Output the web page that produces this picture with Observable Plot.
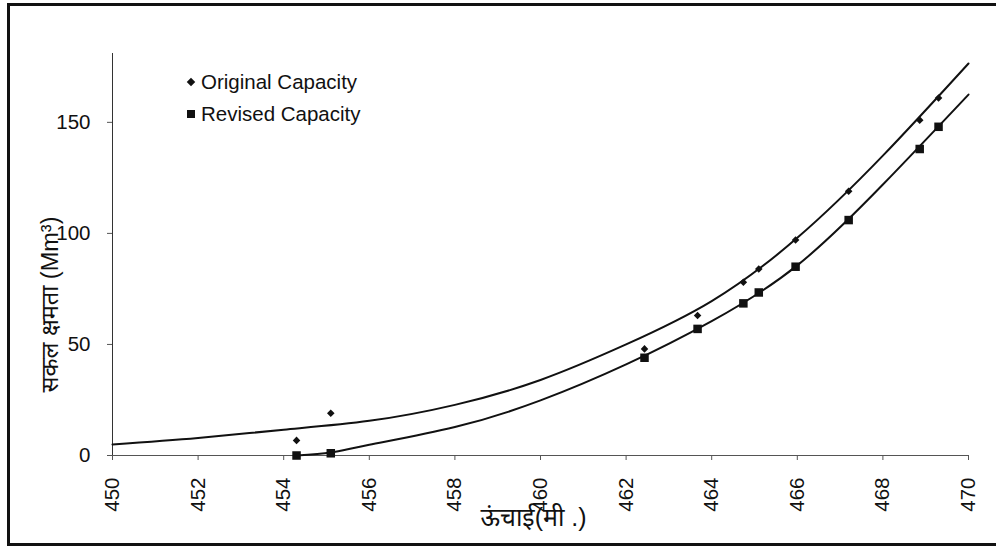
<!DOCTYPE html>
<html>
<head>
<meta charset="utf-8">
<script src="https://cdn.jsdelivr.net/npm/d3@7"></script>
<script src="https://cdn.jsdelivr.net/npm/@observablehq/plot@0.6"></script>
<style>
  html, body { margin: 0; padding: 0; background: #fff; }
  #wrap { position: relative; width: 996px; height: 550px; overflow: hidden; font-family: "Liberation Sans", Arial, "Noto Sans", sans-serif; }
  #frame { position: absolute; left: 7px; top: 3px; width: 1000px; height: 537px; border: 3px solid #111; box-sizing: content-box; pointer-events: none; }
  #legend { position: absolute; left: 186px; top: 66px; font-size: 20.5px; color: #111; line-height: 32px; }
  .row { display: flex; align-items: center; white-space: nowrap; }
  .dia { display: inline-block; width: 6px; height: 6px; background: #111; transform: rotate(45deg); margin: 0 7px 0 2px; }
  .sq { display: inline-block; width: 8px; height: 8px; background: #111; margin: 0 6px 0 1px; }
</style>
</head>
<body>
<div id="wrap">
  <div id="chart"></div>
  <div id="frame"></div>
  <div id="legend"></div>
</div>
<script>
// Data
const elevations = [454.3, 455.1, 462.43, 463.67, 464.74, 465.1, 465.96, 467.2, 468.86, 469.3];
const originalCapacity = [6.8, 19, 48, 63, 78, 84, 97, 119, 151, 161];
const revisedCapacity = [0, 1, 44, 57, 68.5, 73.4, 85, 106, 138, 148];

// Trendlines as drawn in the reference
const originalTrendX = [450, 452, 454, 456, 458, 460, 462, 464, 466, 468, 470];
const originalTrendY = [5, 7.9, 11.6, 15.6, 22.8, 34, 50, 69.5, 98, 135, 176.5];
const revisedTrendX = [454.3, 455.1, 456, 458, 460, 462, 464, 466, 468, 470];
const revisedTrendY = [0, 1.3, 4.8, 12.8, 24.8, 41, 60.5, 85.6, 122, 162.5];

const xTicks = [450, 452, 454, 456, 458, 460, 462, 464, 466, 468, 470];
const yTicks = [0, 50, 100, 150];
const seriesNames = ["Original Capacity", "Revised Capacity"];
const xLabel = "ऊंचाई(मी .)";
const yLabel = "सकल क्षमता (Mm³)";

const origPts = elevations.map((x, i) => ({x, y: originalCapacity[i]}));
const revPts = elevations.map((x, i) => ({x, y: revisedCapacity[i]}));
const origTrend = originalTrendX.map((x, i) => ({x, y: originalTrendY[i]}));
const revTrend = revisedTrendX.map((x, i) => ({x, y: revisedTrendY[i]}));

const font = '"Liberation Sans", Arial, "Noto Sans", sans-serif';

const chart = Plot.plot({
  width: 996,
  height: 550,
  marginLeft: 112,
  marginRight: 28,
  marginTop: 53,
  marginBottom: 95,
  style: {fontFamily: font, fontSize: "20px", color: "#111", background: "transparent"},
  x: {domain: [450, 470]},
  y: {domain: [0, 181]},
  marks: [
    Plot.ruleY([0], {x1: 450, x2: 470, stroke: "#555", strokeWidth: 1}),
    Plot.ruleX([450], {y1: 0, y2: 181, stroke: "#333", strokeWidth: 1}),
    Plot.axisX({ticks: xTicks, tickSize: 5, tickPadding: 17, tickRotate: -90, tickFormat: d => String(d), label: null, fontSize: 20.5, stroke: "#555"}),
    Plot.axisY({ticks: yTicks, tickSize: 5, tickPadding: 17, tickFormat: d => String(d), label: null, fontSize: 20.5, stroke: "#555"}),
    Plot.line(origTrend, {x: "x", y: "y", curve: "natural", stroke: "#111", strokeWidth: 2}),
    Plot.line(revTrend, {x: "x", y: "y", curve: "natural", stroke: "#111", strokeWidth: 2}),
    Plot.dot(origPts, {x: "x", y: "y", symbol: "diamond2", r: 3.4, fill: "#111", stroke: "none"}),
    Plot.dot(revPts, {x: "x", y: "y", symbol: "square", r: 4.8, fill: "#111", stroke: "none"}),
    Plot.text([xLabel], {frameAnchor: "bottom", textAnchor: "middle", dx: -7, dy: 70, fontSize: 25, fill: "#111"}),
    Plot.text([yLabel], {frameAnchor: "left", rotate: -90, textAnchor: "middle", dx: -62, dy: 50, fontSize: 23.5, fill: "#111"})
  ]
});
document.getElementById("chart").appendChild(chart);

const legend = document.getElementById("legend");
seriesNames.forEach((name, i) => {
  const row = document.createElement("div");
  row.className = "row";
  const sw = document.createElement("span");
  sw.className = i === 0 ? "dia" : "sq";
  row.appendChild(sw);
  row.appendChild(document.createTextNode(name));
  legend.appendChild(row);
});
</script>
</body>
</html>
